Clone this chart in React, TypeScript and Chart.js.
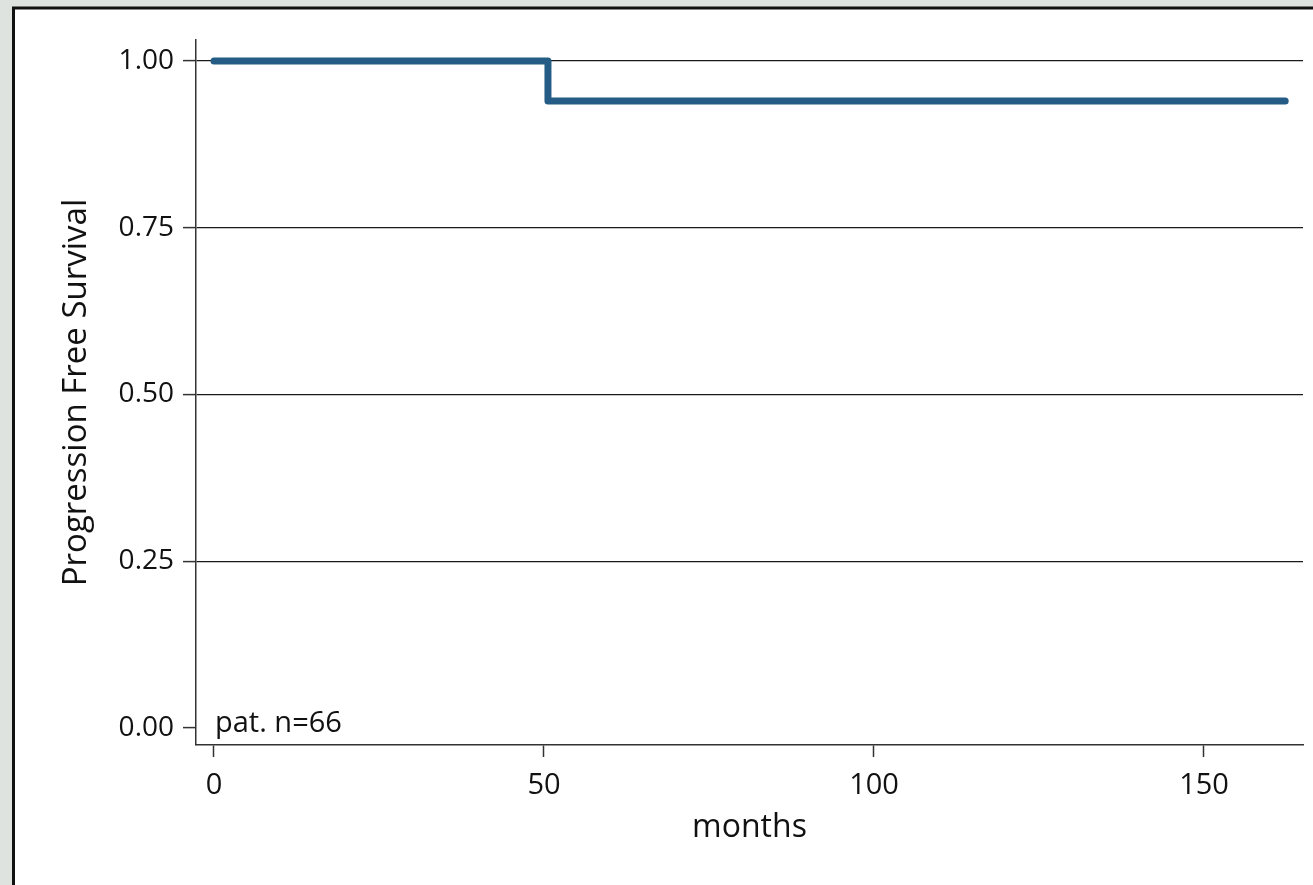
import React, { useEffect, useRef } from "react";
import { Chart, registerables } from "chart.js";

Chart.register(...registerables);

// ---- data ----
const months = [0, 50.6, 162.3];
const survival = [1, 0.94, 0.94];
const yTickValues = [0, 0.25, 0.5, 0.75, 1];
const yTickLabels = ["0.00", "0.25", "0.50", "0.75", "1.00"];
const xTickValues = [0, 50, 100, 150];
const xTickLabels = ["0", "50", "100", "150"];
const noteText = "pat. n=66";
const xTitle = "months";
const yTitle = "Progression Free Survival";

const FONT = "'Open Sans', 'DejaVu Sans', sans-serif";

const framePlugin = {
  id: "frame",
  beforeDraw(chart: any) {
    const { ctx, width, height } = chart;
    ctx.save();
    ctx.fillStyle = "#dfe3e0";
    ctx.fillRect(0, 0, width, height);
    ctx.fillStyle = "#ffffff";
    ctx.fillRect(13, 7, width - 13, height - 7);
    ctx.strokeStyle = "#111111";
    ctx.lineWidth = 3;
    ctx.beginPath();
    ctx.moveTo(13.5, height);
    ctx.lineTo(13.5, 8);
    ctx.lineTo(width, 8);
    ctx.stroke();
    ctx.restore();
  },
  afterDraw(chart: any) {
    const { ctx } = chart;
    const xs = chart.scales.x;
    const ys = chart.scales.y;
    ctx.save();
    ctx.fillStyle = "#111111";
    ctx.font = `29px ${FONT}`;
    ctx.textAlign = "left";
    ctx.textBaseline = "alphabetic";
    ctx.fillText(noteText, xs.getPixelForValue(0) + 1, ys.getPixelForValue(0) + 4);
    ctx.restore();
  },
};

export default function App() {
  const ref = useRef<HTMLCanvasElement | null>(null);

  useEffect(() => {
    document.body.style.margin = "0";
    document.body.style.overflow = "hidden";
    const canvas = ref.current;
    if (!canvas) return;
    const chart = new Chart(canvas, {
      type: "line",
      data: {
        datasets: [
          {
            data: months.map((m, i) => ({ x: m, y: survival[i] })),
            borderColor: "#255c85",
            borderWidth: 7,
            pointRadius: 0,
            stepped: "before",
            fill: false,
            borderCapStyle: "round",
            borderJoinStyle: "round",
            clip: false,
          } as any,
        ],
      },
      options: {
        animation: false,
        responsive: false,
        devicePixelRatio: 1,
        layout: { padding: { left: 0, top: 40, right: 10, bottom: 0 } },
        plugins: { legend: { display: false }, tooltip: { enabled: false } },
        scales: {
          x: {
            type: "linear",
            min: -2.727,
            max: 165.0,
            afterBuildTicks: (s: any) => {
              s.ticks = xTickValues.map((v) => ({ value: v }));
            },
            afterFit: (s: any) => {
              s.height = 140;
            },
            ticks: {
              callback: (v: any) => {
                const i = xTickValues.indexOf(Number(v));
                return i >= 0 ? xTickLabels[i] : "";
              },
              font: { family: FONT, size: 29 },
              color: "#111111",
              padding: 11,
              maxRotation: 0,
              autoSkip: false,
            },
            grid: {
              drawOnChartArea: false,
              drawTicks: true,
              tickLength: 12,
              tickColor: "#333333",
              tickWidth: 1.5,
            },
            border: { display: true, color: "#333333", width: 1.5 },
            title: {
              display: true,
              text: xTitle,
              font: { family: FONT, size: 32 },
              color: "#111111",
              padding: { top: 0, bottom: 38 },
            },
          },
          y: {
            type: "linear",
            min: -0.0255,
            max: 1.0315,
            afterBuildTicks: (s: any) => {
              s.ticks = yTickValues.map((v) => ({ value: v }));
            },
            afterFit: (s: any) => {
              s.width = 196;
            },
            ticks: {
              callback: (v: any) => {
                const i = yTickValues.indexOf(Number(v));
                return i >= 0 ? yTickLabels[i] : "";
              },
              font: { family: FONT, size: 28 },
              color: "#111111",
              padding: 9,
              autoSkip: false,
            },
            grid: {
              drawOnChartArea: true,
              drawTicks: true,
              tickLength: 13,
              tickColor: "#333333",
              tickWidth: 1.5,
              lineWidth: 1.2,
              color: (c: any) => (c.tick && c.tick.value === 0 ? "rgba(0,0,0,0)" : "#1a1a1a"),
            },
            border: { display: true, color: "#333333", width: 1.5 },
            title: {
              display: true,
              text: yTitle,
              font: { family: FONT, size: 33 },
              color: "#111111",
              padding: { top: 57, bottom: 0 },
            },
          },
        },
      },
      plugins: [framePlugin],
    });
    return () => chart.destroy();
  }, []);

  return <canvas ref={ref} width={1313} height={885} style={{ display: "block" }} />;
}
